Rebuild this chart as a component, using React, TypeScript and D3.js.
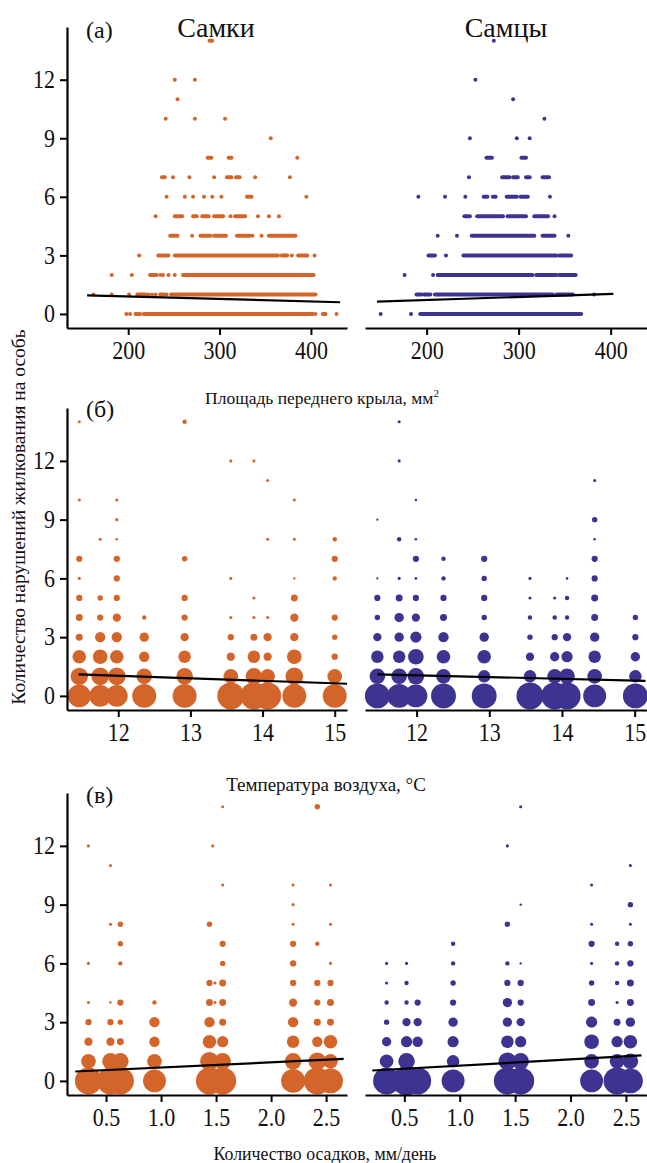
import React, { useEffect, useRef } from 'react';
import * as d3 from 'd3';

const ORANGE = '#d4652a';
const PURPLE = '#3d3390';
const FONT = '"Liberation Serif", "Times New Roman", serif';

// (а) forewing area: [violations, area from, area to] — runs of overlapping dots
const wingFemale: [number, number, number][] = [
  [0, 198, 198], [0, 202, 202], [0, 208, 213], [0, 217, 402], [0, 405, 405], [0, 413, 416], [0, 428, 428],
  [1, 162, 162], [1, 182, 182], [1, 201, 201], [1, 210, 219], [1, 222, 222], [1, 226, 226], [1, 230, 230],
  [1, 235, 239], [1, 242, 242], [1, 247, 405],
  [2, 182, 182], [2, 204, 204], [2, 224, 231], [2, 235, 235], [2, 238, 238], [2, 244, 244], [2, 251, 251], [2, 260, 403],
  [3, 212, 212], [3, 233, 244], [3, 251, 364], [3, 368, 374], [3, 379, 379], [3, 386, 396], [3, 404, 404],
  [4, 246, 254], [4, 270, 270], [4, 279, 290], [4, 294, 307], [4, 319, 333], [4, 336, 336], [4, 346, 346], [4, 354, 383],
  [5, 230, 230], [5, 251, 259], [5, 271, 275], [5, 281, 288], [5, 294, 304], [5, 312, 312], [5, 317, 328],
  [5, 342, 342], [5, 354, 354], [5, 365, 365],
  [6, 242, 242], [6, 262, 262], [6, 271, 271], [6, 283, 283], [6, 292, 292], [6, 302, 302], [6, 330, 335], [6, 395, 395],
  [7, 237, 240], [7, 249, 249], [7, 267, 267], [7, 294, 294], [7, 308, 313], [7, 318, 322], [7, 339, 339], [7, 377, 377],
  [8, 287, 291], [8, 310, 313], [8, 385, 385],
  [9, 356, 356],
  [10, 241, 241], [10, 273, 273], [10, 306, 306],
  [11, 254, 254],
  [12, 251, 251], [12, 273, 273],
  [14, 289, 292],
];

const wingMale: [number, number, number][] = [
  [0, 150, 150], [0, 183, 183], [0, 193, 368],
  [1, 189, 194], [1, 197, 204], [1, 209, 337], [1, 341, 359], [1, 382, 382],
  [2, 176, 176], [2, 207, 207], [2, 212, 315], [2, 319, 341], [2, 344, 362],
  [3, 202, 209], [3, 221, 221], [3, 240, 341], [3, 344, 357],
  [4, 212, 212], [4, 233, 233], [4, 249, 317], [4, 326, 339], [4, 354, 354],
  [5, 241, 247], [5, 255, 283], [5, 288, 308], [5, 317, 332], [5, 339, 339],
  [6, 191, 191], [6, 220, 220], [6, 242, 242], [6, 262, 266], [6, 272, 275], [6, 287, 298], [6, 302, 310], [6, 334, 334],
  [7, 246, 246], [7, 282, 290], [7, 294, 299], [7, 308, 312], [7, 326, 333],
  [8, 265, 271], [8, 303, 308],
  [9, 247, 247], [9, 298, 298], [9, 312, 312],
  [10, 328, 328],
  [11, 294, 294],
  [12, 253, 253],
  [14, 273, 273],
];

// (б) air temperature: [temperature, violations, number of individuals]
const tempFemale: [number, number, number][] = [
  [11.46, 14, 1], [11.46, 10, 1], [11.46, 7, 4], [11.46, 6, 1], [11.46, 5, 4], [11.46, 4, 5], [11.46, 3, 5], [11.46, 2, 19], [11.46, 1, 31], [11.46, 0, 54],
  [11.75, 8, 1], [11.75, 5, 3], [11.75, 4, 4], [11.75, 3, 11], [11.75, 2, 22], [11.75, 1, 32], [11.75, 0, 49],
  [11.98, 10, 1], [11.98, 9, 1], [11.98, 8, 0.7], [11.98, 7, 4], [11.98, 6, 4], [11.98, 5, 4], [11.98, 4, 7], [11.98, 3, 11], [11.98, 2, 19], [11.98, 1, 32], [11.98, 0, 49],
  [12.36, 4, 2], [12.36, 3, 9], [12.36, 2, 11], [12.36, 1, 25], [12.36, 0, 59],
  [12.92, 14, 2], [12.92, 7, 3], [12.92, 5, 4], [12.92, 4, 4], [12.92, 3, 7], [12.92, 2, 16], [12.92, 1, 28], [12.92, 0, 59],
  [13.56, 12, 1], [13.56, 6, 1], [13.56, 4, 1], [13.56, 3, 4], [13.56, 2, 7], [13.56, 1, 22], [13.56, 0, 75],
  [13.88, 12, 1], [13.88, 5, 1], [13.88, 4, 1], [13.88, 3, 5], [13.88, 2, 16], [13.88, 1, 28], [13.88, 0, 75],
  [14.07, 11, 1], [14.07, 8, 1], [14.07, 4, 1], [14.07, 3, 7], [14.07, 2, 7], [14.07, 1, 22], [14.07, 0, 75],
  [14.44, 10, 1], [14.44, 8, 1], [14.44, 6, 0.6], [14.44, 5, 5], [14.44, 4, 7], [14.44, 3, 7], [14.44, 2, 22], [14.44, 1, 32], [14.44, 0, 59],
  [15.0, 8, 2], [15.0, 7, 4], [15.0, 6, 2], [15.0, 4, 4], [15.0, 3, 3], [15.0, 2, 4], [15.0, 1, 22], [15.0, 0, 59],
];

const tempMale: [number, number, number][] = [
  [11.46, 9, 0.5], [11.46, 6, 0.5], [11.46, 5, 4], [11.46, 4, 3], [11.46, 3, 7], [11.46, 2, 16], [11.46, 1, 25], [11.46, 0, 64],
  [11.76, 14, 1], [11.76, 12, 1], [11.76, 8, 2], [11.76, 6, 1], [11.76, 5, 5], [11.76, 4, 9], [11.76, 3, 9], [11.76, 2, 16], [11.76, 1, 25], [11.76, 0, 59],
  [11.99, 10, 0.7], [11.99, 8, 0.7], [11.99, 7, 4], [11.99, 6, 0.7], [11.99, 5, 4], [11.99, 4, 7], [11.99, 3, 13], [11.99, 2, 25], [11.99, 1, 28], [11.99, 0, 54],
  [12.37, 7, 2], [12.37, 6, 2], [12.37, 5, 4], [12.37, 4, 5], [12.37, 3, 11], [12.37, 2, 19], [12.37, 1, 22], [12.37, 0, 64],
  [12.93, 7, 4], [12.93, 6, 3], [12.93, 5, 4], [12.93, 4, 3], [12.93, 3, 9], [12.93, 2, 19], [12.93, 1, 16], [12.93, 0, 64],
  [13.56, 6, 1], [13.56, 5, 1], [13.56, 4, 2], [13.56, 3, 3], [13.56, 2, 7], [13.56, 1, 16], [13.56, 0, 75],
  [13.9, 5, 1], [13.9, 4, 2], [13.9, 3, 4], [13.9, 2, 9], [13.9, 1, 22], [13.9, 0, 75],
  [14.07, 6, 0.7], [14.07, 5, 2], [14.07, 4, 2], [14.07, 3, 7], [14.07, 2, 13], [14.07, 1, 25], [14.07, 0, 75],
  [14.45, 11, 1], [14.45, 9, 3], [14.45, 8, 0.7], [14.45, 7, 4], [14.45, 6, 4], [14.45, 5, 5], [14.45, 4, 5], [14.45, 3, 9], [14.45, 2, 16], [14.45, 1, 22], [14.45, 0, 54],
  [15.01, 4, 3], [15.01, 3, 4], [15.01, 2, 9], [15.01, 1, 16], [15.01, 0, 64],
];

// (в) precipitation: [mm per day, violations, number of individuals]
const rainFemale: [number, number, number][] = [
  [0.34, 12, 1], [0.34, 6, 1], [0.34, 4, 1], [0.34, 3, 4], [0.34, 2, 7], [0.34, 1, 22], [0.34, 0, 75],
  [0.54, 11, 1], [0.54, 8, 1], [0.54, 4, 0.6], [0.54, 3, 4], [0.54, 2, 7], [0.54, 1, 28], [0.54, 0, 75],
  [0.63, 8, 3], [0.63, 7, 3], [0.63, 6, 2], [0.63, 4, 4], [0.63, 3, 3], [0.63, 2, 5], [0.63, 1, 28], [0.63, 0, 75],
  [0.94, 4, 2], [0.94, 3, 11], [0.94, 2, 11], [0.94, 1, 22], [0.94, 0, 54],
  [1.44, 8, 3], [1.44, 5, 4], [1.44, 4, 5], [1.44, 3, 11], [1.44, 2, 19], [1.44, 1, 36], [1.44, 0, 75],
  [1.47, 12, 1], [1.49, 5, 1], [1.49, 4, 1],
  [1.56, 14, 1], [1.56, 10, 1], [1.56, 7, 4], [1.56, 6, 3], [1.56, 5, 5], [1.56, 4, 5], [1.56, 3, 5], [1.56, 2, 13], [1.56, 1, 28], [1.56, 0, 75],
  [2.2, 10, 1], [2.2, 9, 1], [2.2, 8, 1], [2.2, 7, 4], [2.2, 6, 4], [2.2, 5, 4], [2.2, 4, 7], [2.2, 3, 11], [2.2, 2, 16], [2.2, 1, 28], [2.2, 0, 59],
  [2.42, 14, 3], [2.42, 7, 2], [2.42, 5, 4], [2.42, 4, 4], [2.42, 3, 5], [2.42, 2, 11], [2.42, 1, 32], [2.42, 0, 75],
  [2.54, 10, 1], [2.54, 8, 1], [2.54, 6, 1], [2.54, 5, 4], [2.54, 4, 5], [2.54, 3, 5], [2.54, 2, 19], [2.54, 1, 22], [2.54, 0, 64],
];

const rainMale: [number, number, number][] = [
  [0.34, 6, 1], [0.34, 5, 1], [0.34, 4, 2], [0.34, 3, 3], [0.34, 2, 9], [0.34, 1, 19], [0.34, 0, 75],
  [0.52, 6, 1], [0.52, 5, 2], [0.52, 4, 2], [0.52, 3, 7], [0.52, 2, 13], [0.52, 1, 28], [0.52, 0, 87],
  [0.62, 4, 4], [0.62, 3, 7], [0.62, 2, 11], [0.62, 0, 75],
  [0.94, 7, 2], [0.94, 6, 2], [0.94, 5, 3], [0.94, 4, 4], [0.94, 3, 9], [0.94, 2, 13], [0.94, 1, 16], [0.94, 0, 54],
  [1.43, 12, 1], [1.43, 8, 3], [1.43, 6, 2], [1.43, 5, 4], [1.43, 4, 9], [1.43, 3, 9], [1.43, 2, 16], [1.43, 1, 32], [1.43, 0, 75],
  [1.55, 14, 1], [1.55, 9, 0.6], [1.55, 6, 0.6], [1.55, 5, 4], [1.55, 4, 4], [1.55, 3, 7], [1.55, 2, 13], [1.55, 1, 28], [1.55, 0, 75],
  [2.19, 10, 1], [2.19, 8, 1], [2.19, 7, 4], [2.19, 6, 1], [2.19, 5, 3], [2.19, 4, 5], [2.19, 3, 13], [2.19, 2, 22], [2.19, 1, 22], [2.19, 0, 54],
  [2.42, 7, 2], [2.42, 6, 2], [2.42, 5, 2], [2.42, 4, 1], [2.42, 3, 5], [2.42, 2, 13], [2.42, 1, 22], [2.42, 0, 75],
  [2.54, 11, 1], [2.54, 9, 3], [2.54, 8, 1], [2.54, 7, 3], [2.54, 6, 4], [2.54, 5, 5], [2.54, 4, 5], [2.54, 3, 9], [2.54, 2, 19], [2.54, 1, 25], [2.54, 0, 64],
];

// fitted regression lines: [[x start, y start], [x end, y end]]
const wingFemaleTrend: [number, number][] = [[155, 0.95], [432, 0.6]];
const wingMaleTrend: [number, number][] = [[146, 0.63], [403, 1.03]];
const tempFemaleTrend: [number, number][] = [[11.45, 1.1], [15.17, 0.62]];
const tempMaleTrend: [number, number][] = [[11.46, 1.1], [15.15, 0.77]];
const rainFemaleTrend: [number, number][] = [[0.22, 0.48], [2.66, 1.12]];
const rainMaleTrend: [number, number][] = [[0.21, 0.53], [2.64, 1.3]];

const yTicks = [0, 3, 6, 9, 12];
const wingTicks = [200, 300, 400];
const tempTicks = [12, 13, 14, 15];
const rainTicks = [0.5, 1.0, 1.5, 2.0, 2.5];

const App = () => {
  const svgRef = useRef<SVGSVGElement>(null);

  useEffect(() => {
    const svg = d3.select(svgRef.current);
    svg.selectAll('*').remove();

    const rScale = d3.scaleSqrt().domain([0, 75]).range([0, 13.5]);
    const stretch = 1.18; // tick labels in the source are taller than they are wide

    const rows = [
      { top: 27, bottom: 328, domain: [133, 439.5], ticks: wingTicks, fmt: d3.format('d'),
        panels: [{ data: wingFemale, trend: wingFemaleTrend, color: ORANGE }, { data: wingMale, trend: wingMaleTrend, color: PURPLE }], kind: 'runs' },
      { top: 408, bottom: 710, domain: [11.29, 15.17], ticks: tempTicks, fmt: d3.format('d'),
        panels: [{ data: tempFemale, trend: tempFemaleTrend, color: ORANGE }, { data: tempMale, trend: tempMaleTrend, color: PURPLE }], kind: 'bubbles' },
      { top: 793, bottom: 1095, domain: [0.145, 2.69], ticks: rainTicks, fmt: d3.format('.1f'),
        panels: [{ data: rainFemale, trend: rainFemaleTrend, color: ORANGE }, { data: rainMale, trend: rainMaleTrend, color: PURPLE }], kind: 'bubbles' },
    ];
    const cols = [[67, 347], [365, 647]];

    rows.forEach(row => {
      const y = d3.scaleLinear().domain([-0.72, 14.7]).range([row.bottom, row.top]);
      row.panels.forEach((p, ci) => {
        const x = d3.scaleLinear().domain(row.domain).range(cols[ci]);
        const g = svg.append('g');

        if (row.kind === 'runs') {
          g.selectAll('line.run')
            .data(p.data)
            .join('line')
            .attr('x1', d => x(d[1]))
            .attr('x2', d => x(d[2]))
            .attr('y1', d => y(d[0]))
            .attr('y2', d => y(d[0]))
            .attr('stroke', p.color)
            .attr('stroke-width', 4)
            .attr('stroke-linecap', 'round');
        } else {
          const sorted = [...p.data].sort((a, b) => b[2] - a[2]);
          g.selectAll('circle')
            .data(sorted)
            .join('circle')
            .attr('cx', d => x(d[0]))
            .attr('cy', d => y(d[1]))
            .attr('r', d => rScale(d[2]))
            .attr('fill', p.color);
        }

        g.append('line')
          .attr('x1', x(p.trend[0][0]))
          .attr('y1', y(p.trend[0][1]))
          .attr('x2', x(p.trend[1][0]))
          .attr('y2', y(p.trend[1][1]))
          .attr('stroke', '#000')
          .attr('stroke-width', 2.2);

        const xAxis = g.append('g')
          .attr('transform', `translate(0,${row.bottom})`)
          .call(d3.axisBottom(x).tickValues(row.ticks).tickFormat(row.fmt as any).tickSizeInner(7).tickSizeOuter(0).tickPadding(4));
        xAxis.select('.domain').attr('stroke-width', 2.2);
        xAxis.selectAll('.tick line').attr('stroke-width', 2);
        xAxis.selectAll('.tick text')
          .attr('font-size', 22)
          .attr('font-family', FONT)
          .attr('fill', '#111')
          .attr('transform', `scale(1,${stretch})`);

        if (ci === 0) {
          const yAxis = g.append('g')
            .attr('transform', `translate(${cols[0][0]},0)`)
            .call(d3.axisLeft(y).tickValues(yTicks).tickSizeInner(7).tickSizeOuter(0).tickPadding(5));
          yAxis.select('.domain').attr('stroke-width', 2.2);
          yAxis.selectAll('.tick line').attr('stroke-width', 2);
          yAxis.selectAll('.tick text')
            .attr('font-size', 22)
            .attr('font-family', FONT)
            .attr('fill', '#111')
            .attr('dy', '0.3em')
            .attr('transform', `scale(1,${stretch})`);
        }
      });
    });

    const text = (x: number, y: number, s: string, size: number, anchor = 'middle') =>
      svg.append('text')
        .attr('x', x)
        .attr('y', y)
        .attr('text-anchor', anchor)
        .attr('font-family', FONT)
        .attr('font-size', size)
        .attr('fill', '#111')
        .text(s);

    text(86, 38, '(a)', 24, 'start');
    text(86, 417, '(б)', 24, 'start');
    text(86, 803, '(в)', 24, 'start');
    text(216, 37, 'Самки', 28);
    text(506, 37, 'Самцы', 28);

    const wingTitle = text(322, 404, 'Площадь переднего крыла, мм', 17.5);
    wingTitle.append('tspan').attr('dy', -7).attr('font-size', 11).text('2');
    text(326, 791, 'Температура воздуха, °C', 19);
    text(325, 1160, 'Количество осадков, мм/день', 17.8);

    svg.append('text')
      .attr('transform', 'translate(25,517) rotate(-90)')
      .attr('text-anchor', 'middle')
      .attr('font-family', FONT)
      .attr('font-size', 19.5)
      .attr('fill', '#111')
      .text('Количество нарушений жилкования на особь');
  }, []);

  return (
    <svg
      ref={svgRef}
      width={647}
      height={1163}
      style={{ position: 'absolute', left: 0, top: 0, background: '#fff' }}
    />
  );
};

export default App;
